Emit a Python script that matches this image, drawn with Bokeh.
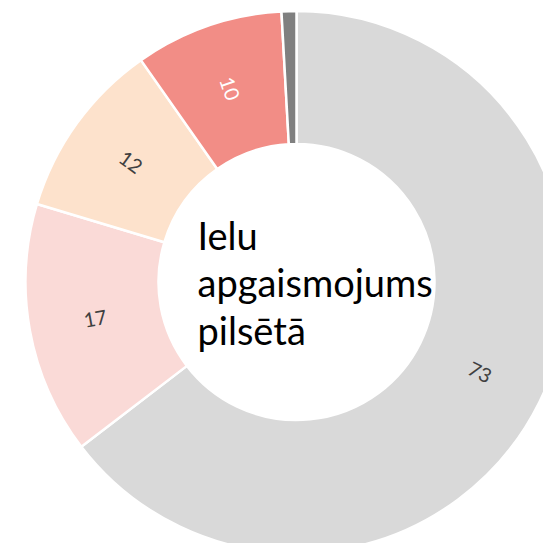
import math
from bokeh.plotting import figure
from bokeh.models import Range1d, ColumnDataSource
from bokeh.core.properties import value
from bokeh.embed import file_html
from bokeh.resources import INLINE

# data (clockwise from 12 o'clock)
categories = ["A", "B", "C", "D", "E"]
values = [73, 17, 12, 10, 1]
labels = ["73", "17", "12", "10", ""]
colors = ["#D9D9D9", "#FADAD7", "#FDE2CC", "#F28D86", "#808080"]
label_colors = ["#404040", "#404040", "#404040", "#FFFFFF", "#404040"]
title_lines = ["Ielu", "apgaismojums", "pilsētā"]

W = H = 543
cx, cy = 296, 261.5
r_in, r_out = 138, 271

total = sum(values)
starts, ends, mids_x, mids_y, text_angles = [], [], [], [], []
acc = 0.0
for v in values:
    t1 = acc / total * 2 * math.pi
    acc += v
    t2 = acc / total * 2 * math.pi
    starts.append(math.pi / 2 - t1)
    ends.append(math.pi / 2 - t2)
    tm = (t1 + t2) / 2
    rm = (r_in + r_out) / 2
    mids_x.append(cx + rm * math.sin(tm))
    mids_y.append(cy + rm * math.cos(tm))
    # radial inward direction, flipped to stay readable
    a = math.atan2(-math.cos(tm), -math.sin(tm))
    if a > math.pi / 2:
        a -= math.pi
    elif a < -math.pi / 2:
        a += math.pi
    text_angles.append(a)

src = ColumnDataSource(dict(cat=categories, val=values, start=starts, end=ends,
                            color=colors, x=mids_x, y=mids_y, lab=labels,
                            lc=label_colors, ang=text_angles))

p = figure(width=W, height=H, output_backend="svg", toolbar_location=None,
           x_range=Range1d(0, W), y_range=Range1d(0, H), min_border=0)
p.axis.visible = False
p.grid.visible = False
p.outline_line_color = None
p.background_fill_color = "white"

p.annular_wedge(x=cx, y=cy, inner_radius=r_in, outer_radius=r_out,
                start_angle="start", end_angle="end", direction="clock",
                fill_color="color", line_color="white", line_width=2.5, source=src)

p.text(x="x", y="y", text="lab", angle="ang", text_color="lc",
       text_font=value("Lato"), text_font_size="20px", text_align="center",
       text_baseline="middle", source=src)

tx = 197
ty0 = 309
dy = 47.5
p.text(x=[tx] * 3, y=[ty0 - i * dy for i in range(3)], text=title_lines,
       text_font=value("Lato"), text_font_size="38px", text_color="black",
       text_align="left", text_baseline="alphabetic")

open("out.html", "w").write(file_html(p, INLINE))
